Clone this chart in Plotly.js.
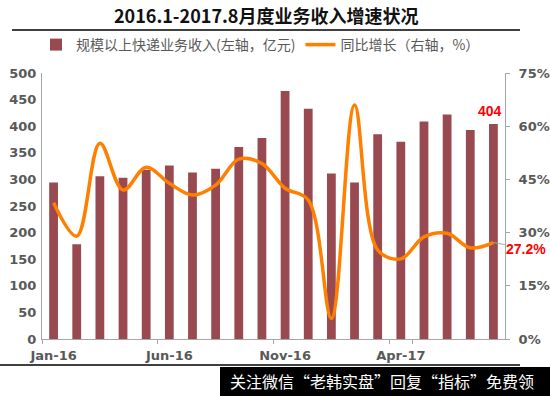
<!DOCTYPE html>
<html>
<head>
<meta charset="utf-8">
<script src="https://cdn.plot.ly/plotly-3.0.1.min.js"></script>
<style>html,body{margin:0;padding:0;background:#fff;}#chart{width:550px;height:396px;}</style>
</head>
<body>
<div id="chart"></div>
<script>
const months = ['Jan-16','Feb-16','Mar-16','Apr-16','May-16','Jun-16','Jul-16','Aug-16','Sep-16','Oct-16',
                'Nov-16','Dec-16','Jan-17','Feb-17','Mar-17','Apr-17','May-17','Jun-17','Jul-17','Aug-17'];
const revenue = [294,178,306,303,318,326,313,320,361,378,466,433,311,294,385,371,409,422,393,404];
const growth = [38.4,29.0,55.2,42.0,48.4,43.9,40.6,43.4,50.7,49.5,42.5,39.2,5.8,66.0,25.1,22.6,28.8,29.8,25.7,27.2];
const tickLabels = ['Jan-16','Jun-16','Nov-16','Apr-17'];

const names = ['规模以上快递业务收入(左轴，亿元)', '同比增长（右轴，%）'];
const titleText = '2016.1-2017.8月度业务收入增速状况';
const footerText = '关注微信“老韩实盘”回复“指标”免费领';

const gray = '#595959';
const axisGray = '#A6A6A6';
const tickFont = {family: 'DejaVu Sans', size: 13, color: gray, weight: 'bold'};

const traces = [
  {type: 'bar', name: names[0], x: months, y: revenue, width: 0.38,
   marker: {color: '#984A50'}, yaxis: 'y'},
  {type: 'scatter', mode: 'lines', name: names[1], x: months, y: growth, yaxis: 'y2',
   line: {color: '#FF7F00', width: 3.5, shape: 'spline', smoothing: 1}}
];

const last = months.length - 1;
const layout = {
  width: 550, height: 396,
  margin: {l: 42, r: 45, t: 73, b: 57},
  paper_bgcolor: '#fff', plot_bgcolor: '#fff',
  title: {text: '<b>' + titleText + '</b>', font: {family: 'Noto Sans CJK SC', size: 18, color: '#111'},
          x: 0.484, xref: 'container', xanchor: 'center', y: 1 - 17/396, yref: 'container', yanchor: 'middle'},
  showlegend: true,
  legend: {orientation: 'h', xref: 'container', yref: 'container', x: 36/550, y: 1 - 45/396,
           xanchor: 'left', yanchor: 'middle', font: {family: 'Noto Sans CJK SC', size: 14, color: gray},
           bgcolor: 'rgba(0,0,0,0)', itemwidth: 30, traceorder: 'normal'},
  bargap: 0.62,
  xaxis: {type: 'category', range: [-0.5, months.length - 0.5], tickmode: 'array', tickvals: tickLabels,
          ticktext: tickLabels, tickson: 'boundaries', ticks: 'outside', ticklen: 4, tickcolor: axisGray,
          tickangle: 0, ticklabelstandoff: 4, showline: true, linecolor: axisGray, linewidth: 1,
          showgrid: false, zeroline: false, tickfont: tickFont},
  yaxis: {range: [0, 500], dtick: 50, showgrid: false, zeroline: false, showline: true,
          linecolor: axisGray, linewidth: 1, ticks: '', tickfont: tickFont, ticklabelstandoff: 2},
  yaxis2: {overlaying: 'y', side: 'right', range: [0, 75], dtick: 15, ticksuffix: '%', showgrid: false,
           zeroline: false, showline: true, linecolor: axisGray, linewidth: 1, ticks: 'outside', ticklen: 4,
           tickcolor: axisGray, tickfont: tickFont, ticklabelstandoff: 6},
  shapes: [
    {type: 'line', xref: 'paper', yref: 'paper', x0: (12-42)/463, x1: (520-42)/463,
     y0: (339-30)/266, y1: (339-30)/266, line: {color: '#000', width: 1.5}},
    {type: 'line', xref: 'paper', yref: 'paper', x0: (0-42)/463, x1: (520-42)/463,
     y0: (339-365)/266, y1: (339-365)/266, line: {color: '#000', width: 1.5}},
    {type: 'rect', xref: 'paper', yref: 'paper', x0: (220-42)/463, x1: (550-42)/463,
     y0: (339-367)/266, y1: (339-396)/266, fillcolor: '#000', line: {width: 0}}
  ],
  annotations: [
    {x: months[last], y: revenue[last], xref: 'x', yref: 'y', text: '<b>' + revenue[last] + '</b>',
     showarrow: false, yanchor: 'middle', yshift: 13, xshift: -3,
     font: {family: 'Liberation Sans', size: 14, color: '#FF0000'}},
    {x: months[last], y: growth[last], xref: 'x', yref: 'y2', text: '<b>' + growth[last].toFixed(1) + '%</b>',
     showarrow: true, arrowhead: 0, arrowwidth: 1, arrowcolor: '#A6A6A6', ax: 33, ay: 6,
     font: {family: 'Liberation Sans', size: 14, color: '#FF0000'}},
    {x: (382-42)/463, y: (339-381)/266, xref: 'paper', yref: 'paper', text: footerText, showarrow: false,
     xanchor: 'center', yanchor: 'middle', font: {family: 'Noto Sans CJK SC', size: 16, color: '#fff'}}
  ]
};

Plotly.newPlot('chart', traces, layout, {displayModeBar: false, staticPlot: true});
</script>
</body>
</html>
